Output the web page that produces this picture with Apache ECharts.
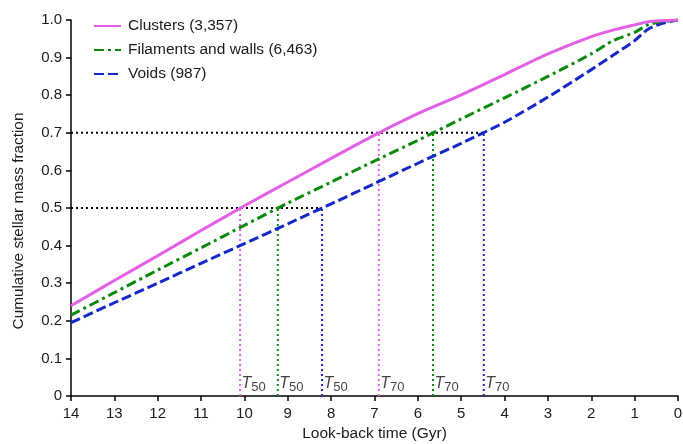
<!DOCTYPE html>
<html><head><meta charset="utf-8">
<script src="https://cdn.jsdelivr.net/npm/echarts@6/dist/echarts.min.js"></script>
<style>html,body{margin:0;padding:0;background:#fff}#c{width:683px;height:444px}</style>
</head><body><div id="c"></div>
<script>
const lookback = [14,13,12,11,10,9,8,7,6,5,4,3,2,1.5,1,0.7,0.4,0];
const clusters = [0.24,0.307,0.373,0.44,0.506,0.569,0.632,0.694,0.751,0.801,0.855,0.91,0.956,0.973,0.987,0.995,0.998,1.0];
const filaments = [0.215,0.275,0.335,0.394,0.454,0.513,0.569,0.625,0.68,0.737,0.793,0.85,0.91,0.945,0.967,0.987,0.995,1.0];
const voids = [0.195,0.248,0.30,0.353,0.405,0.458,0.511,0.565,0.619,0.672,0.728,0.795,0.868,0.906,0.945,0.975,0.99,1.0];
const seriesNames = ['Clusters (3,357)','Filaments and walls (6,463)','Voids (987)'];
const colors = ['#e35fe6','#0a8a0a','#1428c8'];
const t50 = [10.1, 9.23, 8.21];
const t70 = [6.9, 5.65, 4.48];
const levels = [0.5, 0.7];
const yTitle = 'Cumulative stellar mass fraction';
const xTitle = 'Look-back time (Gyr)';

const font = '"Liberation Sans", Arial, Helvetica, sans-serif';
const pair = a => lookback.map((x,i)=>[x,a[i]]);
const lineTypes = ['solid',[10,4,3,4],[10,4]];
const seriesVals = [clusters, filaments, voids];

const series = [];
const hEnds = [Math.min(...t50), Math.min(...t70)];
levels.forEach((lv,k)=>{
  series.push({type:'line', silent:true, symbol:'none', z:1,
    data:[[14,lv],[hEnds[k],lv]],
    lineStyle:{color:'#000', width:2, type:[2,3]}});
});
[t50,t70].forEach((arr,k)=>{
  arr.forEach((t,i)=>{
    series.push({type:'line', silent:true, symbol:'none', z:1,
      data:[[t,0],[t,levels[k]]],
      lineStyle:{color:colors[i], width:2, type:[2,3]}});
    series.push({type:'scatter', silent:true, symbolSize:1, z:5,
      itemStyle:{color:'rgba(0,0,0,0)'},
      data:[[t,0]],
      label:{show:true, position:'right', distance:0, offset:[1,-11],
        formatter: k===0 ? '{t|T}{s|50}' : '{t|T}{s|70}',
        lineHeight:22,
        rich:{
          t:{fontFamily:font, fontSize:16, fontStyle:'italic', color:'#111', verticalAlign:'top', lineHeight:18},
          s:{fontFamily:font, fontSize:13, color:'#111', verticalAlign:'bottom', lineHeight:13, padding:[0,0,0,0]}
        }}});
  });
});
seriesNames.forEach((n,i)=>{
  series.push({name:n, type:'line', symbol:'none', smooth:0.25, z:5-i,
    data: pair(seriesVals[i]),
    lineStyle:{color:colors[i], width:3, type:lineTypes[i]},
    itemStyle:{color:colors[i]}});
});

const chart = echarts.init(document.getElementById('c'), null, {renderer:'canvas'});
chart.setOption({
  animation:false,
  backgroundColor:'#fff',
  grid:{left:71, right:5, top:20, bottom:48, containLabel:false, outerBoundsMode:'none'},
  legend:{data:seriesNames, orient:'vertical', left:88, top:13, itemWidth:27, itemHeight:14, itemGap:8,
    itemStyle:{opacity:0},
    textStyle:{fontFamily:font, fontSize:15.5, color:'#1a1a1a', padding:[0,0,0,2]}},
  graphic:[{type:'text', x:19, y:221, rotation:Math.PI/2,
    style:{text:yTitle, fontFamily:font, fontSize:15.3, fill:'#1a1a1a', textAlign:'center', textVerticalAlign:'middle'}}],
  xAxis:{type:'value', min:0, max:14, interval:1, inverse:true,
    name:xTitle, nameLocation:'middle', nameGap:29,
    nameTextStyle:{fontFamily:font, fontSize:15.5, color:'#1a1a1a'},
    axisLine:{lineStyle:{color:'#000', width:1.5}},
    axisTick:{length:5, lineStyle:{color:'#000', width:1.5}},
    axisLabel:{fontFamily:font, fontSize:15, color:'#1a1a1a', margin:10},
    splitLine:{show:false}},
  yAxis:{type:'value', min:0, max:1, interval:0.1, position:'left',
    axisLine:{show:true, onZero:false, lineStyle:{color:'#000', width:1.5}},
    axisTick:{show:true, length:5, lineStyle:{color:'#000', width:1.5}},
    axisLabel:{fontFamily:font, fontSize:15, color:'#1a1a1a', margin:9,
      formatter:v=> v===0 ? '0' : v.toFixed(1)},
    splitLine:{show:false}},
  series
});
</script></body></html>
